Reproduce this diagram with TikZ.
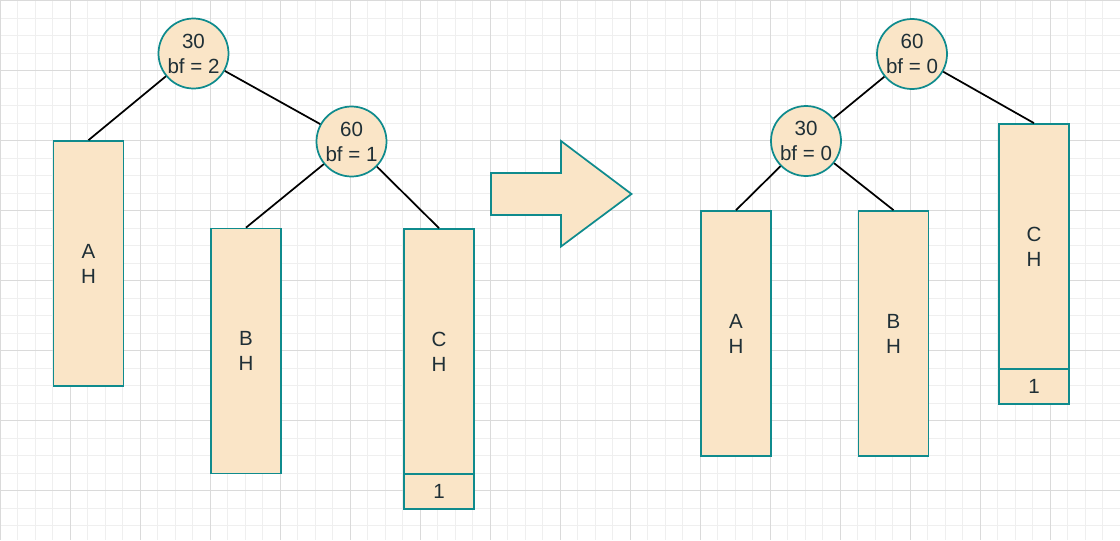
\documentclass[tikz,border=0pt]{standalone}
\usepackage{fontspec}
\setmainfont{Liberation Sans}
\definecolor{nfill}{HTML}{FAE5C7}
\definecolor{nline}{HTML}{0F8B8D}
\definecolor{ntext}{HTML}{1F2F36}
\definecolor{gminor}{HTML}{EFEFEF}
\definecolor{gmajor}{HTML}{DADADA}
\tikzset{
  base/.style={fill=nfill, draw=nline, line width=1.3pt, text=ntext, inner sep=0pt,
    font=\fontsize{15.4}{18.75}\selectfont, align=center},
  bnode/.style={base, circle, minimum size=52.5pt},
  tallbox/.style={base, rectangle, minimum width=52.5pt, minimum height=183.75pt},
  smallbox/.style={base, rectangle, minimum width=52.5pt, minimum height=26.25pt},
  edge/.style={draw=black, line width=1.3pt},
}
\begin{document}
\begin{tikzpicture}[x=0.75pt,y=-0.75pt]
\useasboundingbox (0,0) rectangle (1120,540);
\fill[white] (0,0) rectangle (1120,540);
% grid
\foreach \i in {0,...,64} {
  \draw[gminor, line width=0.75pt] ({17.5*\i},0) -- ({17.5*\i},540);
}
\foreach \j in {0,...,31} {
  \draw[gminor, line width=0.75pt] (0,{0.7+17.5*\j}) -- (1120,{0.7+17.5*\j});
}
\foreach \i in {0,...,16} {
  \draw[gmajor, line width=0.75pt] ({70*\i},0) -- ({70*\i},540);
}
\foreach \j in {0,...,7} {
  \draw[gmajor, line width=0.75pt] (0,{0.7+70*\j}) -- (1120,{0.7+70*\j});
}
% left tree
\node[tallbox] (A) at (88.5,263.5) {A\\H};
\node[tallbox] (B) at (246,351) {B\\H};
\node[tallbox] (C) at (439,351.5) {C\\H};
\node[smallbox] (C1) at (439,491.5) {1};
\node[bnode] (n30) at (193.5,53.5) {30\\bf = 2};
\node[bnode] (n60) at (351.5,141.5) {60\\bf = 1};
\draw[edge] (n30) -- (A.north);
\draw[edge] (n30) -- (n60);
\draw[edge] (n60) -- (B.north);
\draw[edge] (n60) -- (C.north);
% arrow
\draw[fill=nfill, draw=nline, line width=1.3pt, line join=miter]
  (491,173) -- (561,173) -- (561,141) -- (631.5,194) -- (561,246.5) -- (561,215) -- (491,215) -- cycle;
% right tree
\node[tallbox] (A2) at (736,333.5) {A\\H};
\node[tallbox] (B2) at (893.5,333.5) {B\\H};
\node[tallbox] (C2) at (1034,246.5) {C\\H};
\node[smallbox] (C21) at (1034,386.5) {1};
\node[bnode] (m60) at (912,54) {60\\bf = 0};
\node[bnode] (m30) at (806,141) {30\\bf = 0};
\draw[edge] (m60) -- (m30);
\draw[edge] (m60) -- (C2.north);
\draw[edge] (m30) -- (A2.north);
\draw[edge] (m30) -- (B2.north);
\end{tikzpicture}
\end{document}
